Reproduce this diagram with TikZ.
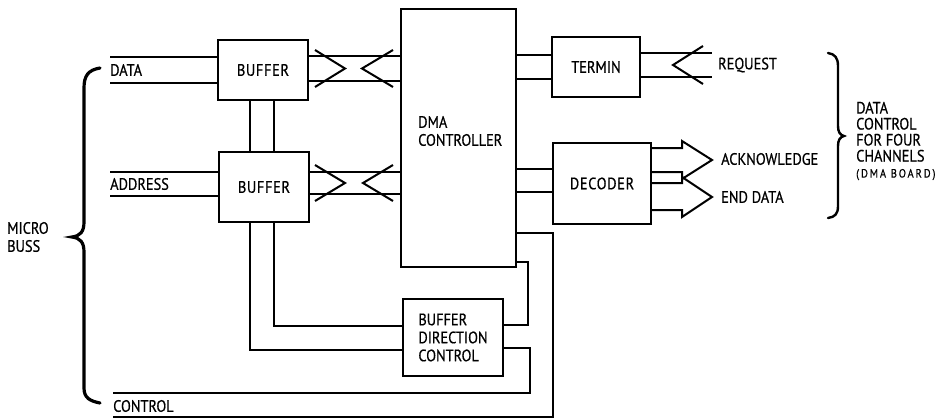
\documentclass[tikz,border=0pt]{standalone}
\usepackage{fontspec}
\setmainfont{PT Sans}[FakeStretch=0.87, FakeBold=0.6]
\begin{document}
\begin{tikzpicture}[x=1pt,y=-1pt,
  every node/.style={font=\fontsize{16.5}{18}\selectfont, inner sep=0pt},
  blk/.style={draw, line width=2pt, rectangle, align=center},
  wire/.style={line width=2pt, line join=miter},
  brc/.style={line width=3.2pt, line cap=round},
  lbl/.style={anchor=west},
]
\useasboundingbox (0,0) rectangle (939,420);

% blocks
\node[blk, minimum width=90pt, minimum height=60pt] (buf1) at (263,70) {\addfontfeature{LetterSpace=4}BUFFER};
\node[blk, minimum width=90pt, minimum height=70pt] (buf2) at (264,187) {\addfontfeature{LetterSpace=4}BUFFER};
\node[blk, minimum width=115pt, minimum height=258pt] (dma) at (458.5,138) {};
\node[anchor=west, align=left] (dmatext) at (418,131) {DMA\\CONTROLLER};
\node[blk, minimum width=88pt, minimum height=60pt] (termin) at (596,67) {TERMIN};
\node[blk, minimum width=98pt, minimum height=81pt] (dec) at (602,183.5) {\addfontfeature{LetterSpace=4}DECODER};
\node[blk, minimum width=100pt, minimum height=77pt, align=left] (bdc) at (453,337.5) {BUFFER\\DIRECTION\\CONTROL};

% free ends
\coordinate (busL) at (110,0);
\coordinate (ctlL) at (113,0);
\coordinate (reqR) at (712,0);

% labels
\node[lbl] (ldata) at (110,70) {DATA};
\node[lbl] (laddr) at (110,184) {ADDRESS};
\node[lbl] (lctl) at (113,406) {CONTROL};
\node[lbl] (lreq) at (718,65) {REQUEST};
\node[lbl] (lack) at (721,159) {ACKNOWLEDGE};
\node[lbl] (lend) at (721,197) {END DATA};
\node[lbl, align=left] (lmicro) at (7,237) {MICRO\\BUSS};
\node[lbl, align=left, font=\fontsize{16.5}{16}\selectfont] (ldc) at (856,141) {DATA\\CONTROL\\FOR FOUR\\CHANNELS\\{\fontsize{12}{12}\selectfont\addfontfeature{LetterSpace=16}(DMA BOARD)}};

% micro bus inputs
\draw[wire] (busL |- 0,57) -- (buf1.west |- 0,57);
\draw[wire] (busL |- 0,83) -- (buf1.west |- 0,83);
\draw[wire] (busL |- 0,172) -- (buf2.west |- 0,172);
\draw[wire] (busL |- 0,196) -- (buf2.west |- 0,196);

% buffer interconnect
\draw[wire] (buf1.south -| 250,0) -- (buf2.north -| 250,0);
\draw[wire] (buf1.south -| 274,0) -- (buf2.north -| 274,0);

% bidirectional buses buffer <-> DMA
\draw[wire] (buf1.east |- 0,56) -- (dma.west |- 0,56);
\draw[wire] (buf1.east |- 0,81) -- (dma.west |- 0,81);
\draw[wire] (315,50) -- (345,68.5) -- (315,87);
\draw[wire] (393,50) -- (362,68.5) -- (393,87);

\draw[wire] (buf2.east |- 0,172) -- (dma.west |- 0,172);
\draw[wire] (buf2.east |- 0,194) -- (dma.west |- 0,194);
\draw[wire] (315,165) -- (345,183) -- (315,201);
\draw[wire] (393,165) -- (363,183) -- (393,201);

% DMA -> TERMIN, request
\draw[wire] (dma.east |- 0,55) -- (termin.west |- 0,55);
\draw[wire] (dma.east |- 0,79) -- (termin.west |- 0,79);
\draw[wire] (termin.east |- 0,53) -- (reqR |- 0,53);
\draw[wire] (termin.east |- 0,77) -- (reqR |- 0,77);
\draw[wire] (703,46) -- (673,65) -- (703,84);

% DMA -> DECODER, outputs
\draw[wire] (dma.east |- 0,169) -- (dec.west |- 0,169);
\draw[wire] (dma.east |- 0,192) -- (dec.west |- 0,192);
\draw[wire] (dec.east |- 0,148) -- (682,148) -- (682,141) -- (712,160) -- (682,179) -- (682,172) -- (dec.east |- 0,172);
\draw[wire] (dec.east |- 0,183) -- (682,183) -- (682,177) -- (712,197) -- (682,217) -- (682,210) -- (dec.east |- 0,210);

% buffer 2 -> buffer direction control
\draw[wire] (buf2.south -| 250,0) -- (250,350) -- (bdc.west |- 0,350);
\draw[wire] (buf2.south -| 274,0) -- (274,326) -- (bdc.west |- 0,326);

% DMA -> BDC
\draw[wire] (dma.east |- 0,262) -- (528,262) -- (528,325) -- (bdc.east |- 0,325);

% BDC -> control
\draw[wire] (bdc.east |- 0,348) -- (530,348) -- (530,393) -- (ctlL |- 0,393);
% DMA -> control
\draw[wire] (dma.east |- 0,233) -- (553,233) -- (553,417) -- (ctlL |- 0,417);

% braces
\draw[brc] (100,68) .. controls (88,70) and (84,76) .. (84,88) -- (84,222)
  .. controls (84,232) and (80,236) .. (72,237)
  .. controls (80,238) and (84,242) .. (84,252) -- (84,388)
  .. controls (84,398) and (90,401) .. (100,403);
\draw[brc, line width=2.4pt] (828,53) .. controls (835,54) and (838,58) .. (838,66) -- (838,126)
  .. controls (838,132) and (840,135) .. (844,136)
  .. controls (840,137) and (838,140) .. (838,146) -- (838,206)
  .. controls (838,214) and (835,217) .. (828,218);
\end{tikzpicture}
\end{document}
